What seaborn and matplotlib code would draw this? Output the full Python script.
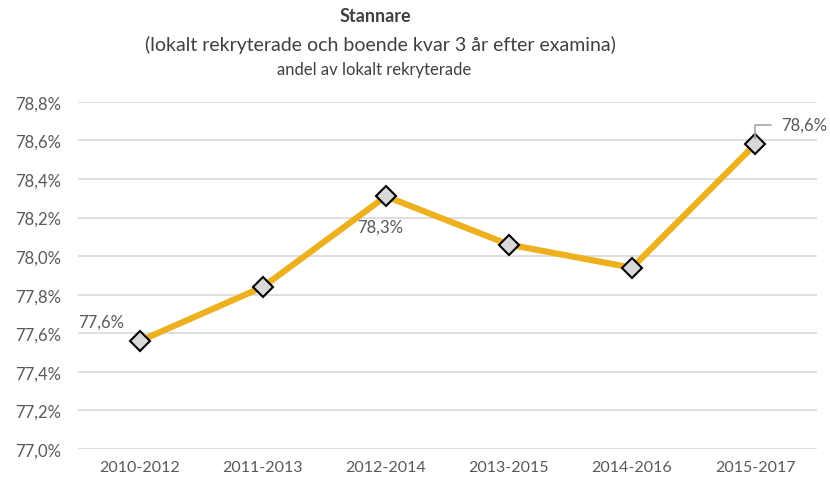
import matplotlib
matplotlib.use("Agg")
import matplotlib.pyplot as plt
import seaborn as sns
import pandas as pd
from matplotlib.ticker import FuncFormatter

categories = ["2010-2012", "2011-2013", "2012-2014", "2013-2015", "2014-2016", "2015-2017"]
values = [77.56, 77.84, 78.31, 78.06, 77.94, 78.58]
yticks = [77.0, 77.2, 77.4, 77.6, 77.8, 78.0, 78.2, 78.4, 78.6, 78.8]

sns.set_theme(style="white")
plt.rcParams['font.family'] = ['Lato', 'DejaVu Sans']

df = pd.DataFrame({"period": categories, "value": values})

fig = plt.figure(figsize=(8.3, 4.85), dpi=100)
ax = fig.add_axes([0.094, 0.072, 0.89, 0.716])

sns.lineplot(data=df, x="period", y="value", ax=ax, color="#EDB120", linewidth=4.5,
             marker="D", markersize=10, markerfacecolor="#D9D9D9", markeredgecolor="black",
             markeredgewidth=1.5, sort=False, zorder=3)

ax.set_xlim(-0.5, len(categories) - 0.5)
ax.set_ylim(77.0, 78.8)
ax.set_yticks(yticks)
ax.yaxis.set_major_formatter(FuncFormatter(lambda v, p: f"{v:.1f}%".replace(".", ",")))
ax.grid(axis="y", color="#D9D9D9", linewidth=1.2)
ax.grid(axis="x", visible=False)
for s in ax.spines.values():
    s.set_visible(False)
ax.set_xlabel("")
ax.set_ylabel("")
ax.tick_params(axis="x", colors="#595959", labelsize=11.5, length=0, pad=8)
ax.tick_params(axis="y", colors="#595959", labelsize=12, length=0, pad=12)
for lab in ax.get_xticklabels() + ax.get_yticklabels():
    lab.set_color("#595959")

def fmt(v):
    return f"{v:.1f}%".replace(".", ",")

lab_kw = dict(fontsize=12, color="#595959", va="center")
ax.annotate(fmt(values[0]), (0, values[0]), xytext=(-28, 14), textcoords="offset points",
            ha="center", **lab_kw)
ax.annotate(fmt(values[2]), (2, values[2]), xytext=(-4, -22), textcoords="offset points",
            ha="center", **lab_kw)
ax.annotate(fmt(values[5]), (5, values[5]), xytext=(19, 14), textcoords="offset points",
            ha="left", **lab_kw,
            arrowprops=dict(arrowstyle="-", color="#A6A6A6", lw=1.2,
                            connectionstyle="angle,angleA=0,angleB=90,rad=0",
                            shrinkA=5, shrinkB=4))

fig.text(375/830, 1 - 17/485, "Stannare", ha="center", va="center", fontsize=13,
         fontweight="bold", color="#404040")
fig.text(380/830, 1 - 45/485, "(lokalt rekryterade och boende kvar 3 år efter examina)",
         ha="center", va="center", fontsize=14, color="#404040")
fig.text(374/830, 1 - 70/485, "andel av lokalt rekryterade", ha="center", va="center",
         fontsize=12, color="#404040")

fig.savefig("out.png", dpi=100, facecolor="white")
